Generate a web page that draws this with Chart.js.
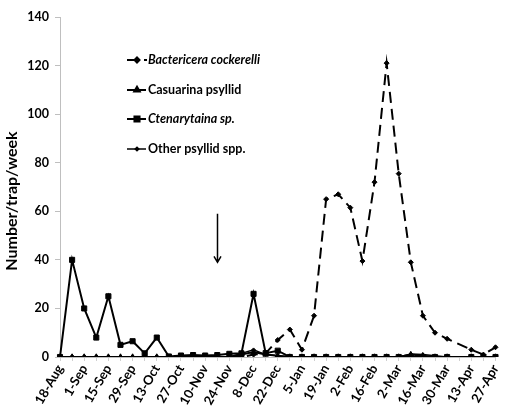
<!DOCTYPE html>
<html>
<head>
<meta charset="utf-8">
<script src="https://cdn.jsdelivr.net/npm/chart.js@4"></script>
<style>
  html, body { margin: 0; padding: 0; background: #fff; }
  #wrap { width: 510px; height: 413px; position: relative; }
</style>
</head>
<body>
<div id="wrap"><canvas id="c"></canvas></div>
<script>
// Weekly trap dates
const weeks = ['18-Aug','25-Aug','1-Sep','8-Sep','15-Sep','22-Sep','29-Sep','6-Oct','13-Oct','20-Oct',
  '27-Oct','3-Nov','10-Nov','17-Nov','24-Nov','1-Dec','8-Dec','15-Dec','22-Dec','29-Dec',
  '5-Jan','12-Jan','19-Jan','26-Jan','2-Feb','9-Feb','16-Feb','23-Feb','2-Mar','9-Mar',
  '16-Mar','23-Mar','30-Mar','6-Apr','13-Apr','20-Apr','27-Apr'];

// Dates printed on the x axis (fortnightly)
const tickLabels = ['18-Aug','1-Sep','15-Sep','29-Sep','13-Oct','27-Oct','10-Nov','24-Nov','8-Dec',
  '22-Dec','5-Jan','19-Jan','2-Feb','16-Feb','2-Mar','16-Mar','30-Mar','13-Apr','27-Apr'];

const seriesNames = ['Bactericera cockerelli','Casuarina psyllid','Ctenarytaina sp.','Other psyllid spp.'];

// Mean number per trap per week (null = no trapping that week)
const bactericera = [0,0,0,0,0,0,0,0,0,0, 0,0,0,0,0,0,1,1.5,7,11.3,
  3,17,65,67,61.5,39.5,72,121,75.5,39, 17,10,7.5,null,3,1,4];
const casuarina = [0,0,0,0,0,0,0,0,0,0, 0,0,0,0,0,1,2,1,0.5,0,
  0,0,0,0,0,0,0,0,0,1, 0.5,0,0,null,0,0,0];
const ctenarytaina = [0,40,20,8,25,5,6.5,1.5,8,0.2, 0.6,0.8,0.6,0.8,1.3,1.5,26,1.6,2.6,0,
  0,0,0,0,0,0,0,0,0,0, 0,0,0,null,0,0,0];
const otherPsyllids = [0,0,0,0,0,0,0,0,0,0, 0,0,0,0,0,1.5,3,1,0.5,0,
  0,0,0,0,0,0,0,0,0,1.2, 1,0.5,0,null,0,0,0];

const yTicks = [0,20,40,60,80,100,120,140];

// Arrow marking the week of interest
const arrowWeek = '17-Nov';
const arrowFrom = 59;
const arrowTo = 39;

const FONT = 'Lato, "Open Sans", sans-serif';

const styles = [
  { data: bactericera, pointStyle: 'rectRot', pointRadius: 2.5, borderWidth: 2, borderDash: [11, 6] },
  { data: casuarina, pointStyle: 'triangle', pointRadius: 3.2, borderWidth: 2, borderDash: [] },
  { data: ctenarytaina, pointStyle: 'rect', pointRadius: 3.6, borderWidth: 2, borderDash: [] },
  { data: otherPsyllids, pointStyle: 'rectRot', pointRadius: 1.8, borderWidth: 1.5, borderDash: [] }
];

const datasets = styles.map((s, i) => ({
  label: seriesNames[i],
  data: s.data,
  borderColor: '#000',
  backgroundColor: '#000',
  pointBackgroundColor: '#000',
  pointBorderColor: '#000',
  pointBorderWidth: 1,
  pointStyle: s.pointStyle,
  pointRadius: s.pointRadius,
  borderWidth: s.borderWidth,
  borderDash: s.borderDash,
  tension: 0,
  spanGaps: true
}));

// Legend drawn inside the plot, top-left
const insideLegend = {
  id: 'insideLegend',
  afterDraw(chart) {
    const ctx = chart.ctx;
    const x0 = 127, rows = [60, 90, 119, 149];
    ctx.save();
    ctx.fillStyle = '#000';
    ctx.strokeStyle = '#000';
    ctx.textBaseline = 'middle';
    styles.forEach((s, i) => {
      const y = rows[i];
      ctx.lineWidth = s.borderWidth;
      ctx.setLineDash(i === 0 ? [12, 5] : []);
      ctx.beginPath();
      ctx.moveTo(x0, y);
      ctx.lineTo(i === 0 ? x0 + 20 : x0 + 19, y);
      ctx.stroke();
      ctx.setLineDash([]);
      Chart.helpers.drawPoint(ctx, { pointStyle: s.pointStyle, radius: s.pointRadius, borderWidth: 1 },
        x0 + 10, y);
      ctx.font = (i === 0 || i === 2 ? 'italic ' : '') + 'bold 12.5px ' + FONT;
      ctx.fillText(seriesNames[i], 148, y);
    });
    ctx.restore();
  }
};

// Vertical arrow and rotated y-axis title
const extras = {
  id: 'extras',
  afterDraw(chart) {
    const ctx = chart.ctx;
    const xs = chart.scales.x, ys = chart.scales.y;
    const ax = Math.round(xs.getPixelForValue(weeks.indexOf(arrowWeek))) + 0.5;
    const y1 = ys.getPixelForValue(arrowFrom);
    const y2 = ys.getPixelForValue(arrowTo);
    ctx.save();
    ctx.strokeStyle = '#000';
    ctx.lineWidth = 1.5;
    ctx.beginPath();
    ctx.moveTo(ax, y1);
    ctx.lineTo(ax, y2);
    ctx.moveTo(ax - 3.5, y2 - 6);
    ctx.lineTo(ax, y2);
    ctx.lineTo(ax + 3.5, y2 - 6);
    ctx.stroke();

    ctx.translate(12, 201);
    ctx.rotate(-Math.PI / 2);
    ctx.fillStyle = '#000';
    ctx.font = 'bold 16px ' + FONT;
    ctx.textAlign = 'center';
    ctx.textBaseline = 'middle';
    ctx.fillText('Number/trap/week', 0, 0);
    ctx.restore();
  }
};

new Chart(document.getElementById('c'), {
  type: 'line',
  data: { labels: weeks, datasets },
  plugins: [insideLegend, extras],
  options: {
    responsive: true,
    maintainAspectRatio: false,
    animation: false,
    layout: { padding: { top: 17, right: 3, left: 0, bottom: 0 } },
    plugins: { legend: { display: false }, tooltip: { enabled: false } },
    scales: {
      x: {
        offset: false,
        afterFit(scale) { scale.height = 56; },
        border: { color: '#bfbfbf', width: 1 },
        grid: { drawOnChartArea: false, tickLength: 4, color: '#d0d0d0' },
        ticks: {
          autoSkip: false,
          maxRotation: 60,
          minRotation: 60,
          padding: 1,
          color: '#000',
          font: { family: FONT, size: 13, weight: 'bold' },
          callback(v) { const l = weeks[v]; return tickLabels.includes(l) ? l : ''; }
        }
      },
      y: {
        min: 0,
        max: 140,
        afterFit(scale) { scale.width = 60; },
        afterBuildTicks(scale) { scale.ticks = yTicks.map(v => ({ value: v })); },
        border: { color: '#bfbfbf', width: 1 },
        grid: { drawOnChartArea: false, tickLength: 5, color: '#bfbfbf' },
        ticks: {
          padding: 6,
          color: '#000',
          font: { family: FONT, size: 12.5, weight: 'bold' }
        }
      }
    }
  }
});
</script>
</body>
</html>
